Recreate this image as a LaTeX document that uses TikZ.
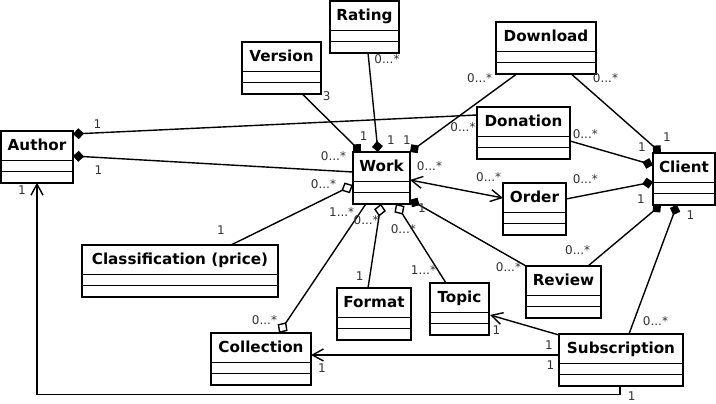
\documentclass[tikz,border=0pt]{standalone}
\usepackage{fontspec}
\setmainfont{DejaVu Sans}
\usetikzlibrary{shapes.multipart,arrows.meta,calc}
\newcommand{\cname}[1]{\rule[-7pt]{0pt}{24pt}#1}
\begin{document}
\begin{tikzpicture}
		[	x=1pt,y=-1pt,
		cls/.style={rectangle split,rectangle split parts=3,draw=black,fill=white,line width=1.6pt,
			inner xsep=2pt,inner ysep=2pt,outer sep=0pt,anchor=north west,
			rectangle split empty part height=4pt,rectangle split empty part depth=0pt,
			font=\fontsize{15.2}{18}\selectfont\bfseries},
		mult/.style={draw=none,fill=none,inner sep=0pt,text=black!80,font=\fontsize{12}{14}\selectfont},
		link/.style={line width=1.4pt},
		comp/.style={link,{Diamond[length=11pt,width=11pt]}-},
		aggr/.style={link,{Diamond[open,length=13pt,width=12pt]}-},
		nav/.style={link,-{Straight Barb[length=11pt,width=12pt]}},
		bothnav/.style={link,{Straight Barb[length=11pt,width=12pt]}-{Straight Barb[length=11pt,width=12pt]}}
		]
		\useasboundingbox (0,0) rectangle (716,404);

		% classes
		\node[cls,minimum width=72pt] (author) at (1,131){\cname{Author}};
		\node[cls,minimum width=57pt] (work) at (353,152){\cname{Work}};
		\node[cls,minimum width=69pt] (rating) at (330,1){\cname{Rating}};
		\node[cls,minimum width=79pt] (version) at (242,42){\cname{Version}};
		\node[cls,minimum width=100pt] (download) at (496,22){\cname{Download}};
		\node[cls,minimum width=93pt] (donation) at (477,107){\cname{Donation}};
		\node[cls,minimum width=62pt] (client) at (653,153){\cname{Client}};
		\node[cls,minimum width=63pt] (order) at (503,183){\cname{Order}};
		\node[cls,minimum width=75pt] (review) at (526,266){\cname{Review}};
		\node[cls,minimum width=59pt] (topic) at (430,283){\cname{Topic}};
		\node[cls,minimum width=124pt] (subscription) at (559,334){\cname{Subscription}};
		\node[cls,minimum width=74pt] (format) at (337,288){\cname{Format}};
		\node[cls,minimum width=196pt] (classification) at (82,245){\cname{Classification (price)}};
		\node[cls,minimum width=100pt] (collection) at (211,333){\cname{Collection}};

		% associations
		\draw[comp] ($(author.north east)+(0,3)$) -- ($(donation.north west)+(0,8)$);
		\draw[comp] ($(author.north east)+(0,25)$) -- ($(work.north west)+(0,20)$);
		\draw[comp] ($(work.north west)+(8,0)$) -- ($(version.south west)+(60,0)$);
		\draw[comp] ($(work.north west)+(25,0)$) -- ($(rating.south west)+(38,0)$);
		\draw[comp] (work.north east) -- ($(download.south west)+(21,0)$);
		\draw[comp] ($(client.north west)+(8,0)$) -- ($(download.south west)+(75,0)$);
		\draw[comp] ($(client.north west)+(0,12)$) -- ($(donation.north east)+(0,34)$);
		\draw[bothnav] ($(work.north east)+(0,28)$) -- ($(order.north west)+(0,15)$);
		\draw[comp] ($(client.north west)+(0,29)$) -- ($(order.north east)+(0,16)$);
		\draw[comp] ($(client.south west)+(8,0)$) -- ($(review.north west)+(62,0)$);
		\draw[comp] ($(client.south west)+(24,0)$) -- ($(subscription.north west)+(70,0)$);
		\draw[comp] ($(work.south east)+(0,-4)$) -- (review.north west);
		\draw[aggr] ($(work.south west)+(43,0)$) -- ($(topic.north west)+(16,0)$);
		\draw[aggr] ($(work.south west)+(28,0)$) -- ($(format.north west)+(31,0)$);
		\draw[aggr] ($(collection.north west)+(68,0)$) -- ($(work.south west)+(13,0)$);
		\draw[aggr] ($(work.north west)+(0,33)$) -- ($(classification.north west)+(149,0)$);
		\draw[nav] ($(subscription.north west)+(0,1)$) -- ($(topic.north east)+(1,32)$);
		\draw[nav] ($(subscription.north west)+(0,21)$) -- ($(collection.north east)+(0,22)$);
		\draw[nav] ($(subscription.south west)+(61,0)$) -- ++(0,9) -| (author.south);

		% multiplicities
		\node[mult] (m1) at (97.5,124.5){1};
		\node[mult] (m2) at (463,127.5){0...*};
		\node[mult] (m3) at (98.5,170){1};
		\node[mult] (m4) at (333.5,156){0...*};
		\node[mult] (m5) at (326.7,96){3};
		\node[mult] (m6) at (363.7,136.5){1};
		\node[mult] (m7) at (387,59.5){0...*};
		\node[mult] (m8) at (391,140){1};
		\node[mult] (m9) at (407,140){1};
		\node[mult] (m10) at (479.7,78){0...*};
		\node[mult] (m11) at (605.5,78.5){0...*};
		\node[mult] (m12) at (667,137){1};
		\node[mult] (m13) at (585.3,134){0...*};
		\node[mult] (m14) at (642,147){1};
		\node[mult] (m15) at (429.5,166){0...*};
		\node[mult] (m16) at (488.7,177){0...*};
		\node[mult] (m17) at (585.3,179.5){0...*};
		\node[mult] (m18) at (577.7,250){0...*};
		\node[mult] (m19) at (641,199.5){1};
		\node[mult] (m20) at (655.5,320.7){0...*};
		\node[mult] (m21) at (690.5,215){1};
		\node[mult] (m22) at (422,208.5){1};
		\node[mult] (m23) at (508.5,267){0...*};
		\node[mult] (m24) at (403.3,229){0...*};
		\node[mult] (m25) at (423.5,270.5){1...*};
		\node[mult] (m26) at (366.2,219.7){0...*};
		\node[mult] (m27) at (359.7,276.3){1};
		\node[mult] (m28) at (341.7,212){1...*};
		\node[mult] (m29) at (264.5,319.7){0...*};
		\node[mult] (m30) at (323.5,184){0...*};
		\node[mult] (m31) at (221,230.5){1};
		\node[mult] (m32) at (496.5,330.5){1};
		\node[mult] (m33) at (549,345){1};
		\node[mult] (m34) at (322,368.5){1};
		\node[mult] (m35) at (550.5,364.7){1};
		\node[mult] (m36) at (22,190){1};
		\node[mult] (m37) at (631.8,395.7){1};
	\end{tikzpicture}
\end{document}
